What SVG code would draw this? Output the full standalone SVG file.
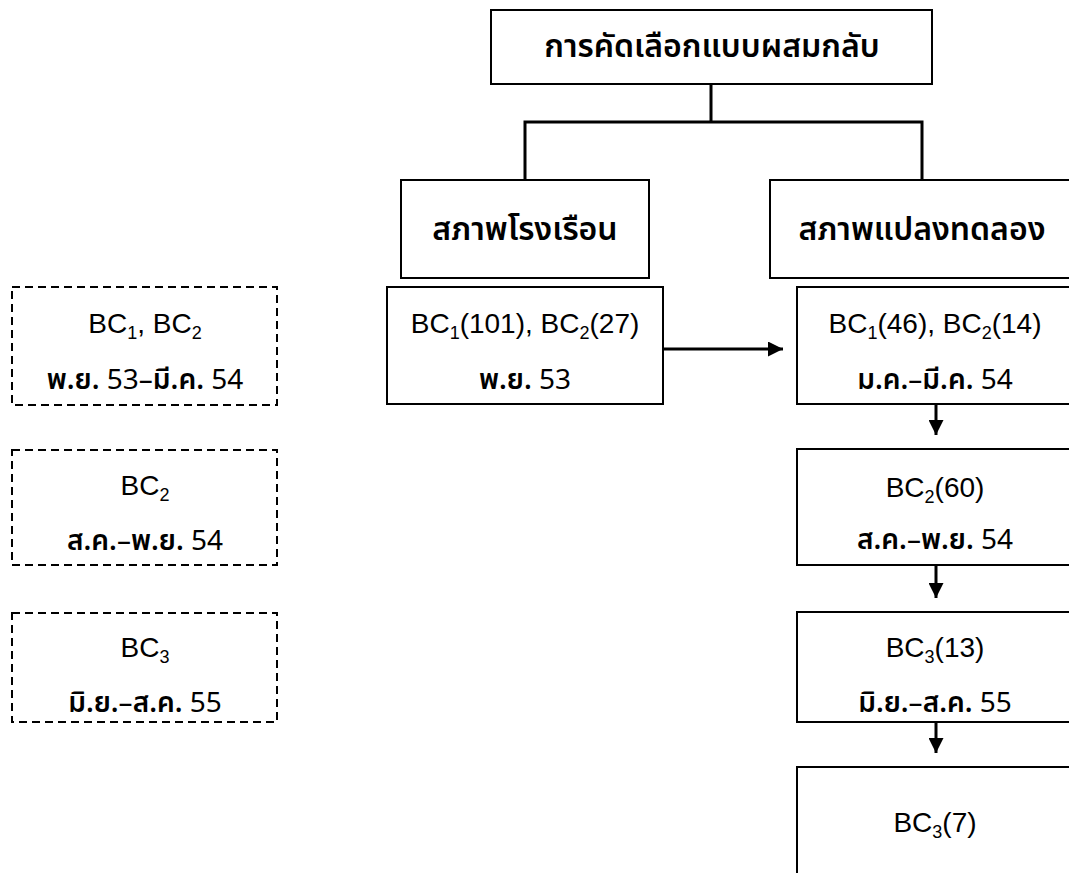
<svg xmlns="http://www.w3.org/2000/svg" width="1069" height="873" viewBox="0 0 1069 873">
  <defs>
    <marker id="arr" viewBox="0 0 10 10" refX="10" refY="5" markerWidth="5" markerHeight="5" markerUnits="strokeWidth" orient="auto">
      <path d="M0,0 L10,5 L0,10 Z" fill="#000"/>
    </marker>
    <style>
      .box { fill: #fff; stroke: #000; stroke-width: 2; }
      .dash { fill: #fff; stroke: #000; stroke-width: 2; stroke-dasharray: 8 5; }
      .th { font-family: "Noto Sans Thai", "Noto Sans", "DejaVu Sans", sans-serif; font-size: 32px; font-weight: 600; fill: #000; text-anchor: middle; }
      .thm { font-family: "Noto Sans Thai", "Liberation Sans", "Noto Sans", sans-serif; font-size: 28px; fill: #000; text-anchor: middle; }
      .b { font-weight: 600; }
      .en { font-family: "Liberation Sans", Arial, sans-serif; font-size: 28px; fill: #000; text-anchor: middle; }
      .sub { font-size: 18px; }
      .conn { fill: none; stroke: #000; stroke-width: 3; }
    </style>
  </defs>
  <rect width="1069" height="873" fill="#fff"/>

  <g id="connectors">
    <path class="conn" d="M711,84 V122 M525,122 H922 M525,120.5 V180 M922,120.5 V180"/>
    <path class="conn" d="M663,349 H783" marker-end="url(#arr)"/>
    <path class="conn" d="M936,404 V435" marker-end="url(#arr)"/>
    <path class="conn" d="M936,565 V598" marker-end="url(#arr)"/>
    <path class="conn" d="M936,722 V753" marker-end="url(#arr)"/>
  </g>

  <g id="n-root">
    <rect class="box" x="491" y="10" width="441" height="74"/>
    <text class="th" x="712" y="57">การคัดเลือกแบบผสมกลับ</text>
  </g>
  <g id="n-greenhouse">
    <rect class="box" x="401" y="180" width="248" height="98"/>
    <text class="th" x="525" y="240">สภาพโรงเรือน</text>
  </g>
  <g id="n-field">
    <rect class="box" x="770" y="180" width="304" height="98"/>
    <text class="th" x="922" y="240">สภาพแปลงทดลอง</text>
  </g>

  <g id="n-legend1">
    <rect class="dash" x="12" y="287" width="265" height="118"/>
    <text class="en" x="145" y="333">BC<tspan class="sub" dy="6">1</tspan><tspan dy="-6">, BC</tspan><tspan class="sub" dy="6">2</tspan></text>
    <text class="thm" x="145" y="389"><tspan class="b">พ.ย.</tspan> 53–<tspan class="b">มี.ค.</tspan> 54</text>
  </g>
  <g id="n-legend2">
    <rect class="dash" x="12" y="450" width="265" height="115"/>
    <text class="en" x="145" y="495">BC<tspan class="sub" dy="6">2</tspan></text>
    <text class="thm" x="145" y="550"><tspan class="b">ส.ค.</tspan>–<tspan class="b">พ.ย.</tspan> 54</text>
  </g>
  <g id="n-legend3">
    <rect class="dash" x="12" y="613" width="265" height="109"/>
    <text class="en" x="145" y="657">BC<tspan class="sub" dy="6">3</tspan></text>
    <text class="thm" x="145" y="712"><tspan class="b">มิ.ย.</tspan>–<tspan class="b">ส.ค.</tspan> 55</text>
  </g>

  <g id="n-gh1">
    <rect class="box" x="387" y="287" width="276" height="117"/>
    <text class="en" x="525" y="333">BC<tspan class="sub" dy="6">1</tspan><tspan dy="-6">(101), BC</tspan><tspan class="sub" dy="6">2</tspan><tspan dy="-6">(27)</tspan></text>
    <text class="thm" x="525" y="389"><tspan class="b">พ.ย.</tspan> 53</text>
  </g>

  <g id="n-f1">
    <rect class="box" x="797" y="287" width="276" height="117"/>
    <text class="en" x="935" y="333">BC<tspan class="sub" dy="6">1</tspan><tspan dy="-6">(46), BC</tspan><tspan class="sub" dy="6">2</tspan><tspan dy="-6">(14)</tspan></text>
    <text class="thm" x="935" y="389"><tspan class="b">ม.ค.</tspan>–<tspan class="b">มี.ค.</tspan> 54</text>
  </g>
  <g id="n-f2">
    <rect class="box" x="797" y="449" width="276" height="116"/>
    <text class="en" x="935" y="497">BC<tspan class="sub" dy="6">2</tspan><tspan dy="-6">(60)</tspan></text>
    <text class="thm" x="935" y="549"><tspan class="b">ส.ค.</tspan>–<tspan class="b">พ.ย.</tspan> 54</text>
  </g>
  <g id="n-f3">
    <rect class="box" x="797" y="612" width="276" height="110"/>
    <text class="en" x="935" y="657">BC<tspan class="sub" dy="6">3</tspan><tspan dy="-6">(13)</tspan></text>
    <text class="thm" x="935" y="712"><tspan class="b">มิ.ย.</tspan>–<tspan class="b">ส.ค.</tspan> 55</text>
  </g>
  <g id="n-f4">
    <rect class="box" x="797" y="767" width="276" height="120"/>
    <text class="en" x="935" y="832">BC<tspan class="sub" dy="6">3</tspan><tspan dy="-6">(7)</tspan></text>
  </g>
</svg>
